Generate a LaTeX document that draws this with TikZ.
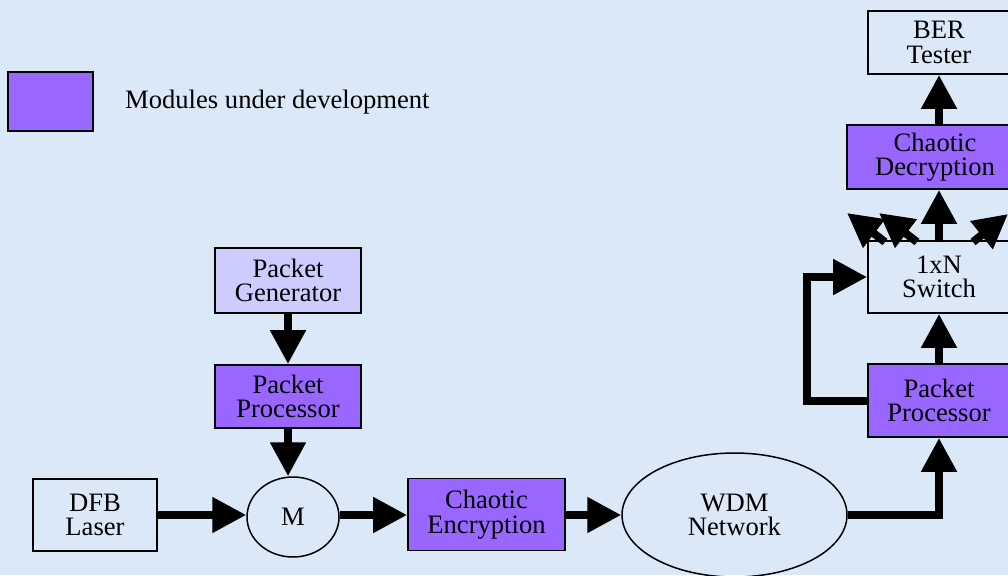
\documentclass[tikz,border=0pt]{standalone}
\usepackage{fontspec}
\setmainfont{Liberation Serif}
\usetikzlibrary{arrows.meta,shapes.geometric,calc}
\definecolor{bgblue}{HTML}{DAE8F8}
\definecolor{devpurple}{HTML}{9966FF}
\definecolor{genlav}{HTML}{CCCCFF}
\tikzset{
  txt/.style={font=\fontsize{26.6}{24.5}\selectfont},
  box/.style={draw=black, line width=1.8pt, rectangle, inner sep=0pt, align=center, txt},
  devbox/.style={box, fill=devpurple},
  oval/.style={draw=black, line width=1.5pt, ellipse, inner sep=0pt, align=center, txt},
  arr/.style={line width=8pt, -{Triangle[length=34pt,width=34pt]}}
}
\begin{document}
\begin{tikzpicture}[x=1pt,y=-1pt]
\useasboundingbox (0,0) rectangle (1008,575);
\fill[bgblue] (0,0) rectangle (1008,575);
\clip (0,0) rectangle (1008,575);

% legend
\node[devbox, minimum width=85pt, minimum height=59pt] (leg) at (50.5,101.5) {};
\node[anchor=west, inner sep=0pt, txt] (legtxt) at (125,102) {Modules under development};

% right column
\node[box, minimum width=142pt, minimum height=63pt] (ber) at (939,42.5) {BER\\Tester};
\node[devbox, minimum width=176pt, minimum height=64pt] (dec) at (935,157) {Chaotic\\Decryption};
\node[box, minimum width=142pt, minimum height=72pt] (sw) at (939,277) {1xN\\Switch};
\node[devbox, minimum width=142pt, minimum height=73pt] (procR) at (939,400.5) {Packet\\Processor};

% left column
\node[box, fill=genlav, minimum width=146pt, minimum height=65pt] (gen) at (288,280.5) {Packet\\Generator};
\node[devbox, minimum width=146pt, minimum height=63pt] (procL) at (288,396.5) {Packet\\Processor};

% bottom row
\node[box, minimum width=124pt, minimum height=72pt] (dfb) at (95,515) {DFB\\Laser};
\node[oval, minimum width=92pt, minimum height=80pt] (M) at (293,517) {M};
\node[devbox, minimum width=157pt, minimum height=72pt] (enc) at (486.5,514.5) {Chaotic\\Encryption};
\node[oval, minimum width=225pt, minimum height=124pt] (wdm) at (734.5,515) {WDM\\Network};

% fan-out coordinates
\coordinate (f1s) at (885,242);
\coordinate (f1e) at (847,213);
\coordinate (f2s) at (917,242);
\coordinate (f2e) at (879,213);
\coordinate (f3s) at (973,242);
\coordinate (f3e) at (1008,214);

% connectors
\draw[arr] (gen.south) -- (procL.north);
\draw[arr] (procL.south) -- (procL.south |- M.north);
\draw[arr] (dfb.east) -- (dfb.east -| M.west);
\draw[arr] (M.east |- dfb.east) -- (dfb.east -| enc.west);
\draw[arr] (enc.east |- dfb.east) -- (dfb.east -| wdm.west);
\draw[arr] (wdm.east) -| (procR.south);
\draw[arr] (procR.north) -- (sw.south);
\draw[arr] (procR.west) -- ++(-60,0) |- (sw.west);
\draw[arr] (sw.north) -- (sw.north |- dec.south);
\draw[arr] (ber.south |- dec.north) -- (ber.south);
\draw[arr] (f1s) -- (f1e);
\draw[arr] (f2s) -- (f2e);
\draw[arr] (f3s) -- (f3e);
\end{tikzpicture}
\end{document}
